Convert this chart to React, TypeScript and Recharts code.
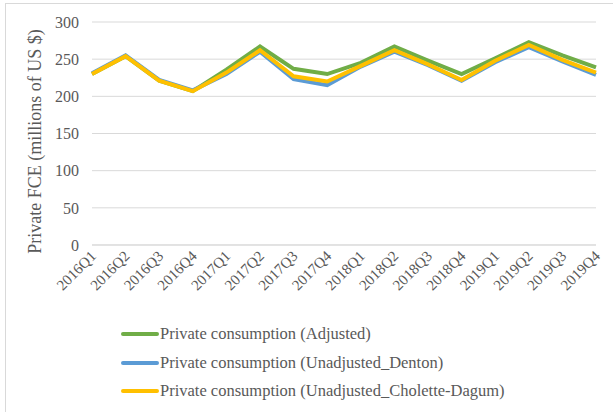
import React from 'react';
import { LineChart, Line, XAxis, YAxis, CartesianGrid, Legend } from 'recharts';

const quarters = [
  '2016Q1', '2016Q2', '2016Q3', '2016Q4',
  '2017Q1', '2017Q2', '2017Q3', '2017Q4',
  '2018Q1', '2018Q2', '2018Q3', '2018Q4',
  '2019Q1', '2019Q2', '2019Q3', '2019Q4',
];

const adjusted = [230, 254, 221, 207, 236, 267, 237, 230, 245, 267, 248, 230, 251, 273, 255, 239];
const denton = [231, 255, 222, 208, 230, 260, 223, 215, 240, 260, 242, 221, 246, 266, 247, 229];
const choletteDagum = [230, 254, 221, 207, 232, 262, 227, 220, 241, 262, 243, 222, 248, 269, 249, 232];

const yTicks = [0, 50, 100, 150, 200, 250, 300];

const seriesList = [
  { key: 'adjusted', name: 'Private consumption (Adjusted)', color: '#70AD47' },
  { key: 'denton', name: 'Private consumption (Unadjusted_Denton)', color: '#5B9BD5' },
  { key: 'cholette', name: 'Private consumption (Unadjusted_Cholette-Dagum)', color: '#FFC000' },
];

const data = quarters.map((q, i) => ({
  quarter: q,
  adjusted: adjusted[i],
  denton: denton[i],
  cholette: choletteDagum[i],
}));

const FONT = 'Liberation Serif, Times New Roman, serif';

const QuarterTick = (props: any) => {
  const { x, y, payload } = props;
  return (
    <g transform={`translate(${x + 5},${y + 4})`}>
      <text
        x={0}
        y={0}
        textAnchor="end"
        transform="rotate(-45)"
        fontSize={15}
        fontFamily={FONT}
        fill="#595959"
      >
        {payload.value}
      </text>
    </g>
  );
};

// fixed order legend, one row per series
const LegendBox = () => (
  <div style={{ paddingLeft: 121, paddingTop: 3, fontFamily: FONT, fontSize: 16.5, color: '#595959' }}>
    {seriesList.map((s) => (
      <div key={s.key} style={{ display: 'flex', alignItems: 'center', height: 28.5 }}>
        <span style={{ display: 'inline-block', width: 38, height: 4, background: s.color, borderRadius: 2 }} />
        <span style={{ marginLeft: 1 }}>{s.name}</span>
      </div>
    ))}
  </div>
);

export default function App() {
  return (
    <div style={{ position: 'absolute', left: 0, top: 0, width: 613, height: 412, background: '#fff', overflow: 'hidden' }}>
      <div
        style={{
          position: 'absolute',
          left: 5,
          top: 3,
          width: 620,
          height: 420,
          border: '1px solid #d9d9d9',
          boxSizing: 'border-box',
        }}
      />
      <LineChart
        width={613}
        height={412}
        data={data}
        margin={{ top: 22, right: 17, left: 0, bottom: 0 }}
      >
        <CartesianGrid vertical={false} stroke="#d9d9d9" />
        <XAxis
          dataKey="quarter"
          tick={<QuarterTick />}
          tickLine={false}
          axisLine={{ stroke: '#d9d9d9' }}
          height={72}
          interval={0}
        />
        <YAxis
          domain={[0, 300]}
          ticks={yTicks}
          width={92}
          tickLine={false}
          axisLine={false}
          tick={{ fontSize: 16, fontFamily: FONT, fill: '#595959' }}
          tickMargin={7}
          label={{
            value: 'Private FCE (millions of US $)',
            angle: -90,
            position: 'insideLeft',
            dx: 30,
            dy: 8,
            style: { fontSize: 18, fontFamily: FONT, fill: '#595959', textAnchor: 'middle' },
          }}
        />
        <Legend verticalAlign="bottom" align="left" height={95} content={<LegendBox />} />
        {seriesList.map((s) => (
          <Line
            key={s.key}
            type="linear"
            dataKey={s.key}
            name={s.name}
            stroke={s.color}
            strokeWidth={4}
            dot={false}
            isAnimationActive={false}
          />
        ))}
      </LineChart>
    </div>
  );
}
